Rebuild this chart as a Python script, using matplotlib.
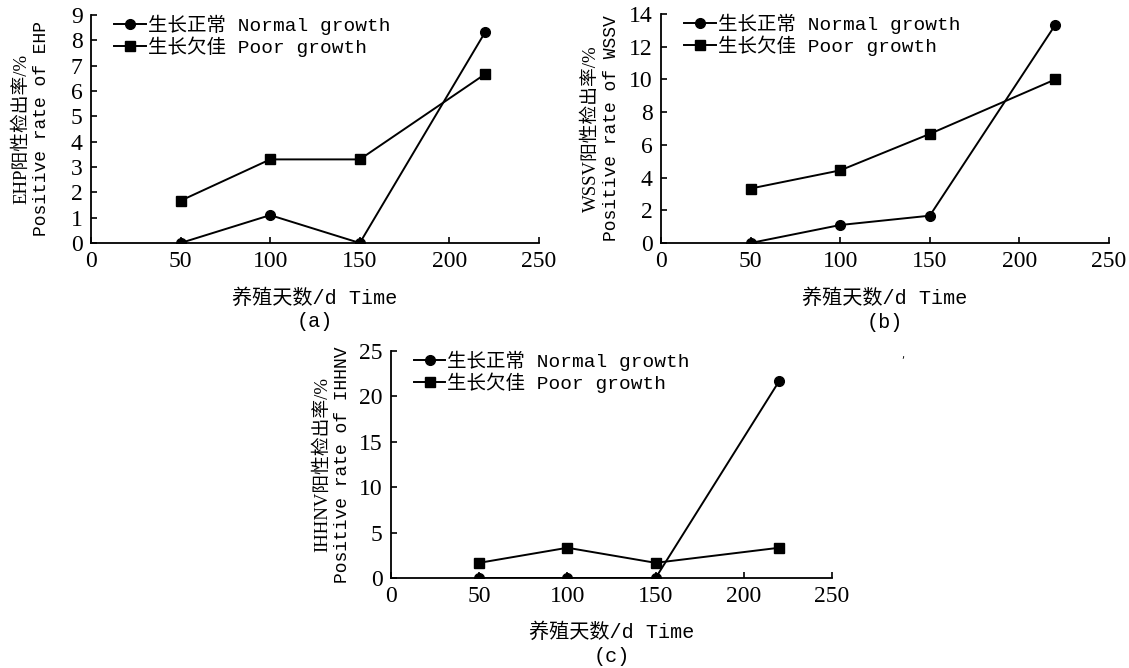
import numpy as np
import matplotlib.pyplot as plt

days = [50, 100, 150, 220]

ehp_normal = [0, 1.1, 0, 8.33]
ehp_poor = [1.67, 3.3, 3.3, 6.67]

wssv_normal = [0, 1.1, 1.67, 13.33]
wssv_poor = [3.33, 4.44, 6.67, 10.0]

ihhnv_normal = [0, 0, 0, 21.67]
ihhnv_poor = [1.67, 3.33, 1.67, 3.33]

label_normal = "生长正常 Normal growth"
label_poor = "生长欠佳 Poor growth"
xlabel = "养殖天数/d Time"

W, H = 1129, 668
mono = ['Liberation Mono', 'Noto Sans CJK SC']
serif = ['Liberation Serif', 'Noto Sans CJK SC']

fig = plt.figure(figsize=(W / 100, H / 100), dpi=100)


def make_axes(l, r, t, b):
    return fig.add_axes([l / W, (H - b) / H, (r - l) / W, (b - t) / H])


def draw(ax, normal, poor, ymax, ystep, name, tag):
    ax.plot(days, normal, '-o', color='black', lw=1.4, ms=7, label=label_normal)
    ax.plot(days, poor, '-s', color='black', lw=1.4, ms=7, label=label_poor)
    ax.set_xlim(0, 250)
    ax.set_ylim(0, ymax)
    ax.set_xticks(np.arange(0, 251, 50))
    ax.set_yticks(np.arange(0, ymax + 0.1, ystep))
    ax.spines['top'].set_visible(False)
    ax.spines['right'].set_visible(False)
    for s in ['left', 'bottom']:
        ax.spines[s].set_linewidth(1.3)
    ax.tick_params(direction='in', length=4, width=1.2, labelsize=17, pad=6)
    for lab in ax.get_xticklabels() + ax.get_yticklabels():
        lab.set_family(serif)
    ax.legend(loc='upper left', bbox_to_anchor=(0.035, 1.035), frameon=False,
              handlelength=1.6, handletextpad=0.1, labelspacing=0.08,
              borderaxespad=0, prop={'family': mono, 'size': 14})
    ax.text(-0.155, 0.5, name + "阳性检出率/%", transform=ax.transAxes,
            rotation=90, ha='center', va='center', fontsize=13.5, family=serif)
    ax.text(-0.11, 0.5, "Positive rate of " + name, transform=ax.transAxes,
            rotation=90, ha='center', va='center', fontsize=13, family=mono)
    ax.text(0.5, -0.24, xlabel, transform=ax.transAxes, ha='center',
            va='center', fontsize=14.5, family=mono)
    ax.text(0.5, -0.345, tag, transform=ax.transAxes, ha='center',
            va='center', fontsize=14.5, family=mono)


ax1 = make_axes(91, 539, 15, 243)
draw(ax1, ehp_normal, ehp_poor, 9, 1, "EHP", "(a)")

ax2 = make_axes(661, 1109, 14, 243)
draw(ax2, wssv_normal, wssv_poor, 14, 2, "WSSV", "(b)")

ax3 = make_axes(391, 832, 351, 578)
draw(ax3, ihhnv_normal, ihhnv_poor, 25, 5, "IHHNV", "(c)")

fig.text(903 / W, 1 - 355 / H, ",", fontsize=7, ha='center', va='center')

fig.savefig("out.png", dpi=100)
